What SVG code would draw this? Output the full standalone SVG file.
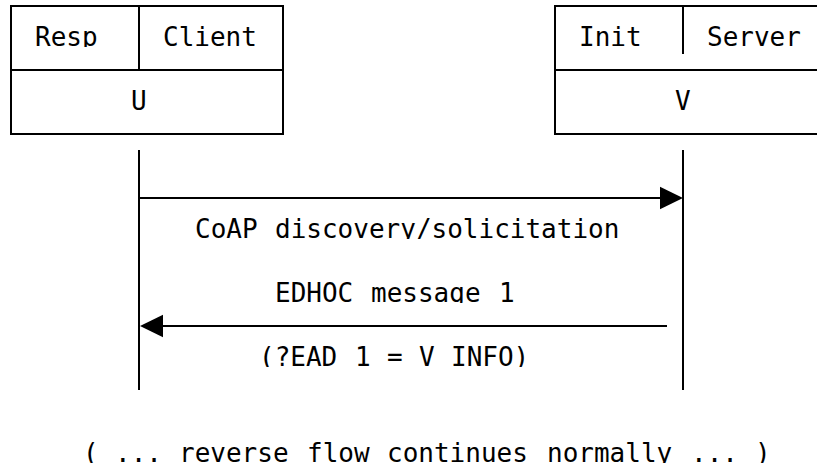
<svg xmlns="http://www.w3.org/2000/svg" width="817" height="465" viewBox="0 0 817 465">
  <style>
    .ln { stroke: #000; stroke-width: 2; fill: none; stroke-linecap: butt; }
    .head { fill: #000; stroke: none; }
    text { font-family: "DejaVu Sans Mono", "Liberation Mono", monospace; font-size: 26px; fill: #000; clip-path: url(#rows); }
  </style>
  <defs>
    <!-- text bands, cut at the baseline of each row -->
    <clipPath id="rows">
      <rect x="0" y="16" width="817" height="31"/>
      <rect x="0" y="80" width="817" height="31"/>
      <rect x="0" y="208" width="817" height="31"/>
      <rect x="0" y="272" width="817" height="31"/>
      <rect x="0" y="336" width="817" height="31"/>
      <rect x="0" y="432" width="817" height="31"/>
    </clipPath>
  </defs>
  <rect width="817" height="465" fill="#fff"/>

  <g id="node-u">
    <path class="ln" d="M11,6 H283 V134 H11 Z M11,70 H283 M139,6 V70"/>
    <text x="35" y="46">Resp</text>
    <text x="163" y="46">Client</text>
    <text x="131" y="110">U</text>
  </g>

  <g id="node-v">
    <path class="ln" d="M827,6 H555 V134 H827 M555,70 H827 M683,6 V54"/>
    <text x="579" y="46">Init</text>
    <text x="707" y="46">Server</text>
    <text x="675" y="110">V</text>
  </g>

  <g id="connectors">
    <!-- lifelines -->
    <path class="ln" d="M139,150 V390 M683,150 V390"/>
    <!-- U to V -->
    <path class="ln" d="M139,198 H664"/>
    <polygon class="head" points="683,198 660,186.8 660,209.2"/>
    <text x="195" y="238">CoAP</text>
    <text x="275" y="238">discovery/solicitation</text>
    <!-- V to U -->
    <path class="ln" d="M667,326 H158"/>
    <polygon class="head" points="140,326 163,314.8 163,337.2"/>
    <text x="275" y="302">EDHOC</text>
    <text x="371" y="302">message</text>
    <text x="499" y="302">1</text>
    <text x="259" y="366">(?EAD</text>
    <text x="355" y="366">1</text>
    <text x="387" y="366">=</text>
    <text x="419" y="366">V</text>
    <text x="451" y="366">INFO)</text>
  </g>

  <g id="note">
    <text x="83" y="462">(</text>
    <text x="115" y="462">...</text>
    <text x="179" y="462">reverse</text>
    <text x="307" y="462">flow</text>
    <text x="387" y="462">continues</text>
    <text x="547" y="462">normally</text>
    <text x="691" y="462">...</text>
    <text x="755" y="462">)</text>
  </g>
</svg>
